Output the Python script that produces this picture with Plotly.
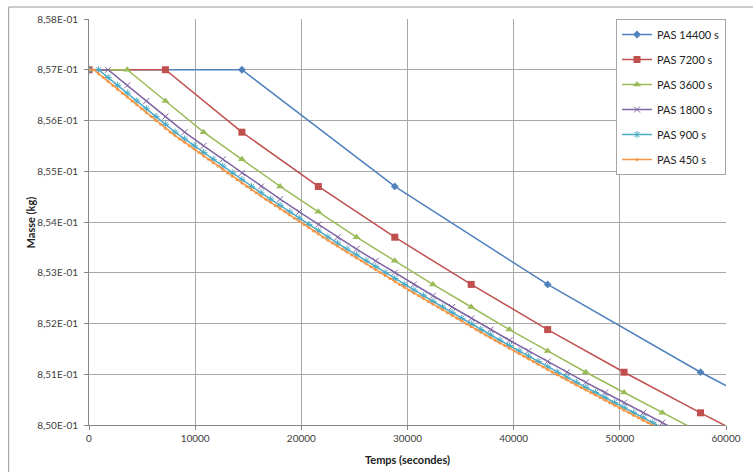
import plotly.graph_objects as go

# ---- data ----
series_names = ["PAS 14400 s", "PAS 7200 s", "PAS 3600 s", "PAS 1800 s", "PAS 900 s", "PAS 450 s"]
steps_s = [14400, 7200, 3600, 1800, 900, 450]

masse_14400 = [0.857000, 0.857000, 0.854700, 0.852770, 0.851040, 0.849460]

masse_7200 = [0.857000, 0.857000, 0.855770, 0.854700, 0.853700, 0.852770, 0.851880,
              0.851040, 0.850240, 0.849460]

masse_3600 = [0.857000, 0.857000, 0.856385, 0.855770, 0.855235, 0.854700, 0.854200,
              0.853700, 0.853235, 0.852770, 0.852325, 0.851880, 0.851460, 0.851040,
              0.850640, 0.850240, 0.849850, 0.849460]

masse_1800 = [0.857000, 0.857000, 0.856692, 0.856385, 0.856077, 0.855770, 0.855502,
              0.855235, 0.854967, 0.854700, 0.854450, 0.854200, 0.853950, 0.853700,
              0.853467, 0.853235, 0.853002, 0.852770, 0.852547, 0.852325, 0.852102,
              0.851880, 0.851670, 0.851460, 0.851250, 0.851040, 0.850840, 0.850640,
              0.850440, 0.850240, 0.850045, 0.849850]

masse_900 = [0.857000, 0.857000, 0.856846, 0.856692, 0.856539, 0.856385, 0.856231,
             0.856077, 0.855924, 0.855770, 0.855636, 0.855502, 0.855369, 0.855235,
             0.855101, 0.854967, 0.854834, 0.854700, 0.854575, 0.854450, 0.854325,
             0.854200, 0.854075, 0.853950, 0.853825, 0.853700, 0.853584, 0.853467,
             0.853351, 0.853235, 0.853119, 0.853002, 0.852886, 0.852770, 0.852659,
             0.852547, 0.852436, 0.852325, 0.852214, 0.852102, 0.851991, 0.851880,
             0.851775, 0.851670, 0.851565, 0.851460, 0.851355, 0.851250, 0.851145,
             0.851040, 0.850940, 0.850840, 0.850740, 0.850640, 0.850540, 0.850440,
             0.850340, 0.850240, 0.850142, 0.850045, 0.849947]

masse_450 = [0.857000, 0.857000, 0.856923, 0.856846, 0.856769, 0.856692, 0.856616,
             0.856539, 0.856462, 0.856385, 0.856308, 0.856231, 0.856154, 0.856077,
             0.856001, 0.855924, 0.855847, 0.855770, 0.855703, 0.855636, 0.855569,
             0.855502, 0.855436, 0.855369, 0.855302, 0.855235, 0.855168, 0.855101,
             0.855034, 0.854967, 0.854901, 0.854834, 0.854767, 0.854700, 0.854637,
             0.854575, 0.854512, 0.854450, 0.854387, 0.854325, 0.854262, 0.854200,
             0.854137, 0.854075, 0.854012, 0.853950, 0.853887, 0.853825, 0.853762,
             0.853700, 0.853642, 0.853584, 0.853526, 0.853467, 0.853409, 0.853351,
             0.853293, 0.853235, 0.853177, 0.853119, 0.853061, 0.853002, 0.852944,
             0.852886, 0.852828, 0.852770, 0.852714, 0.852659, 0.852603, 0.852547,
             0.852492, 0.852436, 0.852381, 0.852325, 0.852269, 0.852214, 0.852158,
             0.852102, 0.852047, 0.851991, 0.851936, 0.851880, 0.851827, 0.851775,
             0.851722, 0.851670, 0.851617, 0.851565, 0.851512, 0.851460, 0.851407,
             0.851355, 0.851302, 0.851250, 0.851197, 0.851145, 0.851092, 0.851040,
             0.850990, 0.850940, 0.850890, 0.850840, 0.850790, 0.850740, 0.850690,
             0.850640, 0.850590, 0.850540, 0.850490, 0.850440, 0.850390, 0.850340,
             0.850290, 0.850240, 0.850191, 0.850142, 0.850094, 0.850045, 0.849996,
             0.849947]

series_values = [masse_14400, masse_7200, masse_3600, masse_1800, masse_900, masse_450]

x_tick_vals = [0, 10000, 20000, 30000, 40000, 50000, 60000]
x_tick_text = ["0", "10000", "20000", "30000", "40000", "50000", "60000"]
y_tick_vals = [0.850, 0.851, 0.852, 0.853, 0.854, 0.855, 0.856, 0.857, 0.858]
y_tick_text = ["8,50E-01", "8,51E-01", "8,52E-01", "8,53E-01", "8,54E-01",
               "8,55E-01", "8,56E-01", "8,57E-01", "8,58E-01"]

# ---- styles ----
colors = ["#4F81BD", "#C0504D", "#9BBB59", "#8064A2", "#4BACC6", "#F79646"]
symbols = ["diamond", "square", "triangle-up", "x-thin-open", "asterisk-open", "circle"]
msizes = [6, 7, 7, 6, 6, 3]

FONT = "Lato, 'Liberation Sans', Arial, sans-serif"

fig = go.Figure()
for i, (name, step, vals) in enumerate(zip(series_names, steps_s, series_values)):
    xs = [step * k for k in range(len(vals))]
    mk = dict(symbol=symbols[i], size=msizes[i], color=colors[i])
    if symbols[i].endswith("open"):
        mk["line"] = dict(color=colors[i], width=1)
    else:
        mk["line"] = dict(width=0)
    fig.add_trace(go.Scatter(
        x=xs, y=vals, name=name, mode="lines+markers",
        line=dict(color=colors[i], width=1.5),
        marker=mk, legendgroup=name, cliponaxis=True,
    ))

# target plot area (page px): x 89..731, y 19..425 ; body margin removed below
PX0, PX1, PY0, PY1 = 89, 731, 19, 425
W, H = 753, 472
L, T = PX0, PY0
R = W - PX1
B = H - PY1
pw, ph = PX1 - PX0, PY1 - PY0

def px_to_paper_x(px):
    return (px - PX0) / pw

def px_to_paper_y(py):
    return (PY1 - py) / ph

grid_col = "#A8A8A8"
axis_col = "#868686"

fig.update_layout(
    width=W, height=H,
    margin=dict(l=L, r=R, t=T, b=B, pad=0),
    paper_bgcolor="white", plot_bgcolor="white",
    font=dict(family=FONT, size=10, color="#333333"),
    showlegend=True,
    legend=dict(
        x=1, xanchor="right", y=1, yanchor="top",
        bgcolor="white", bordercolor="#A6A6A6", borderwidth=1,
        font=dict(family=FONT, size=11, color="#222222"),
        tracegroupgap=6, traceorder="grouped",
    ),
    xaxis=dict(
        range=[0, 60000], tickvals=x_tick_vals, ticktext=x_tick_text,
        showgrid=True, gridcolor=grid_col, gridwidth=1,
        showline=True, linecolor=axis_col, linewidth=1,
        ticks="outside", ticklen=4, tickcolor=axis_col,
        zeroline=False, tickfont=dict(size=10, color="#404040"),
    ),
    yaxis=dict(
        range=[0.850, 0.858], tickvals=y_tick_vals, ticktext=y_tick_text,
        showgrid=True, gridcolor=grid_col, gridwidth=1,
        showline=True, linecolor=axis_col, linewidth=1,
        ticks="outside", ticklen=4, tickcolor=axis_col,
        zeroline=False, tickfont=dict(size=10, color="#404040"),
        ticklabelstandoff=4,
    ),
    annotations=[
        dict(text="<b>Masse (kg)</b>", xref="paper", yref="paper",
             x=px_to_paper_x(30), y=0.5, xanchor="center", yanchor="middle",
             textangle=-90, showarrow=False,
             font=dict(family=FONT, size=11, color="#222222")),
        dict(text="<b>Temps (secondes)</b>", xref="paper", yref="paper",
             x=0.5, y=px_to_paper_y(459), xanchor="center", yanchor="middle",
             showarrow=False,
             font=dict(family=FONT, size=11, color="#222222")),
    ],
    shapes=[
        dict(type="rect", xref="paper", yref="paper",
             x0=px_to_paper_x(8), x1=px_to_paper_x(790),
             y0=px_to_paper_y(520), y1=px_to_paper_y(7),
             line=dict(color="#9A9A9A", width=1), layer="below"),
    ],
)

fig.write_html(
    "out.html",
    config={"displayModeBar": False},
    post_script="document.body.style.margin='0';document.body.style.overflow='hidden';",
)
